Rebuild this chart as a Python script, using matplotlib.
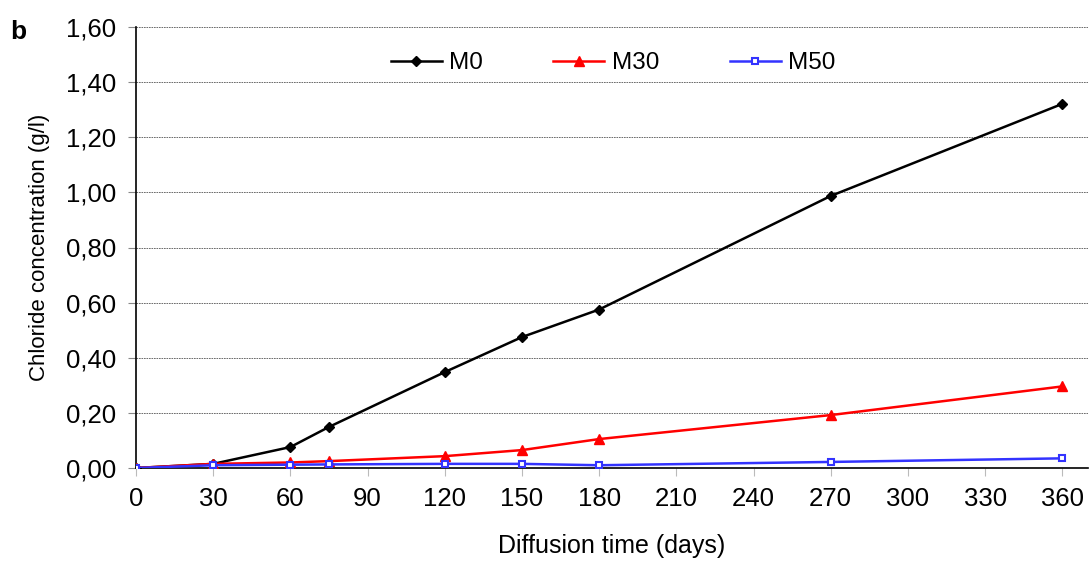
import matplotlib
matplotlib.use("Agg")
import matplotlib.pyplot as plt
from matplotlib.ticker import FuncFormatter, MultipleLocator

plt.rcParams['font.family'] = ['Liberation Sans', 'DejaVu Sans']

days = [0, 30, 60, 75, 120, 150, 180, 270, 360]
m0 = [0.0, 0.015, 0.076, 0.149, 0.348, 0.475, 0.575, 0.987, 1.321]
m30 = [0.0, 0.015, 0.020, 0.025, 0.043, 0.065, 0.105, 0.192, 0.296]
m50 = [0.0, 0.010, 0.012, 0.013, 0.015, 0.015, 0.010, 0.022, 0.035]

fig = plt.figure(figsize=(10.89, 5.62), dpi=100)
ax = fig.add_axes([136/1089, 1 - 468/562, (1088-136)/1089, (468-27)/562])

ax.plot(days, m0, color='black', marker='D', markersize=5, lw=1.8, label='M0', zorder=3)
ax.plot(days, m30, color='#ff0000', marker='^', markersize=7, lw=1.8, label='M30', zorder=3)
ax.plot(days, m50, color='#3333ff', marker='s', markersize=5, markerfacecolor='white',
        markeredgewidth=1.5, lw=1.8, label='M50', zorder=3)

ax.set_xlim(0, 370)
ax.set_ylim(0, 1.6)
ax.yaxis.set_major_locator(MultipleLocator(0.2))
ax.yaxis.set_major_formatter(FuncFormatter(lambda v, p: f"{v:.2f}".replace('.', ',')))
ax.set_xticks(range(0, 361, 30))

ax.grid(axis='y', color='#555555', linestyle=(0, (2, 1)), linewidth=0.6)
ax.set_axisbelow(True)
for s in ['top', 'right']:
    ax.spines[s].set_visible(False)
ax.spines['left'].set_linewidth(1.2)
ax.spines['bottom'].set_linewidth(1.2)
ax.tick_params(axis='x', direction='out', length=6, color='#bbbbbb', labelsize=18.5, pad=8)
ax.tick_params(axis='y', direction='out', length=6, color='#888888', labelsize=18.5, pad=8)

ax.set_xlabel('Diffusion time (days)', fontsize=18, labelpad=16)
ax.set_ylabel('Chloride concentration (g/l)', fontsize=16, labelpad=12)

ax.legend(loc='center', bbox_to_anchor=(0.501, 1 - (63-27)/441), ncol=3, frameon=False,
          fontsize=17.5, handlelength=2.1, columnspacing=2.9, handletextpad=0.3)

fig.text(10/1089, 1 - 32/562, 'b', fontsize=19, fontweight='bold', va='center')

fig.savefig('out.png', dpi=100)
